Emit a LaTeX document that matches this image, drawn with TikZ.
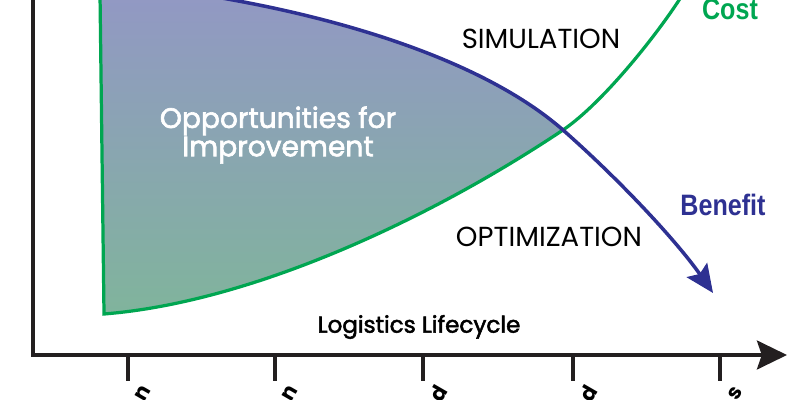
\documentclass[tikz,border=0pt]{standalone}
\usepackage{fontspec}
\usetikzlibrary{arrows.meta, positioning}
\newfontfamily\futfont{Poppins}
\newfontfamily\futmedfont{Poppins}[FakeBold=2.2]
\newfontfamily\impfont{Liberation Sans}[FakeStretch=0.85]
\definecolor{costgreen}{RGB}{0,166,81}
\definecolor{benefitblue}{RGB}{46,49,146}
\definecolor{areatop}{RGB}{146,152,196}
\definecolor{areabottom}{RGB}{128,180,156}
\definecolor{axisgray}{RGB}{35,31,32}

\begin{document}
\begin{tikzpicture}
  [x=0.025cm, y=-0.025cm,
   axis/.style={draw=axisgray, line width=2.8pt},
   costline/.style={draw=costgreen, line width=2.3pt},
   benefitline/.style={draw=benefitblue, line width=2.5pt},
   phase/.style={font=\futfont\fontsize{19.6}{21}\selectfont, text=black},
   legend/.style={font=\impfont\bfseries\fontsize{21}{21}\selectfont},
   stage/.style={font=\futfont\bfseries\fontsize{15}{15}\selectfont, rotate=60}]
  \useasboundingbox (0,0) rectangle (800,400);
  \clip (0,0) rectangle (800,400);
  \coordinate (top) at (100,-6);
  \coordinate (corner) at (104,314);
  \coordinate (cross) at (563,130);
  \coordinate (bstart) at (200,-6);
  \coordinate (bjoin) at (233,0);
  \coordinate (bend) at (713,293);
  \coordinate (cend) at (691,-20);
  \coordinate (origin) at (33,355);
  \coordinate (yend) at (33,-10);
  \coordinate (xend) at (787,355);

  \path[top color=areatop, bottom color=areabottom]
    (top) -- (corner) .. controls (254,302) and (433,217) .. (cross)
    .. controls (483,60) and (343,20) .. (bjoin) -- (bstart) -- cycle;
  \draw[costline] (top) -- (corner) .. controls (254,302) and (433,217) .. (cross)
    .. controls (610,98) and (676,10) .. (cend);
  \draw[benefitline, -{Stealth[length=0.7cm, width=0.62cm, inset=0.12cm]}]
    (bstart) -- (bjoin) .. controls (343,20) and (483,60) .. (cross)
    .. controls (623,183) and (678,243) .. (bend);

  \draw[axis, -{Stealth[length=0.75cm, width=0.72cm, inset=0.12cm]}] (yend) -- (origin) -- (xend);
  \foreach \x/\l [count=\i] in {128/n, 275/n, 423/d, 573/d, 720/s}{
    \draw[axis] (\x,355) -- (\x,381);
    \node[stage] (stage\i) at (\x+15,393) {\l};
  }

  \node[phase] (sim) at (541,39) {SIMULATION};
  \node[phase] (opt) at (549,237) {OPTIMIZATION};
  \node[legend, text=costgreen] (cost) at (730,9) {Cost};
  \node[legend, text=benefitblue] (benefit) at (723,205) {Benefit};
  \node[font=\futmedfont\fontsize{20}{19}\selectfont, text=white, align=center] (opp) at (278,135) {Opportunities for\\Improvement};
  \node[font=\futmedfont\fontsize{16.4}{16.4}\selectfont] (life) at (419,327) {Logistics Lifecycle};
\end{tikzpicture}
\end{document}
